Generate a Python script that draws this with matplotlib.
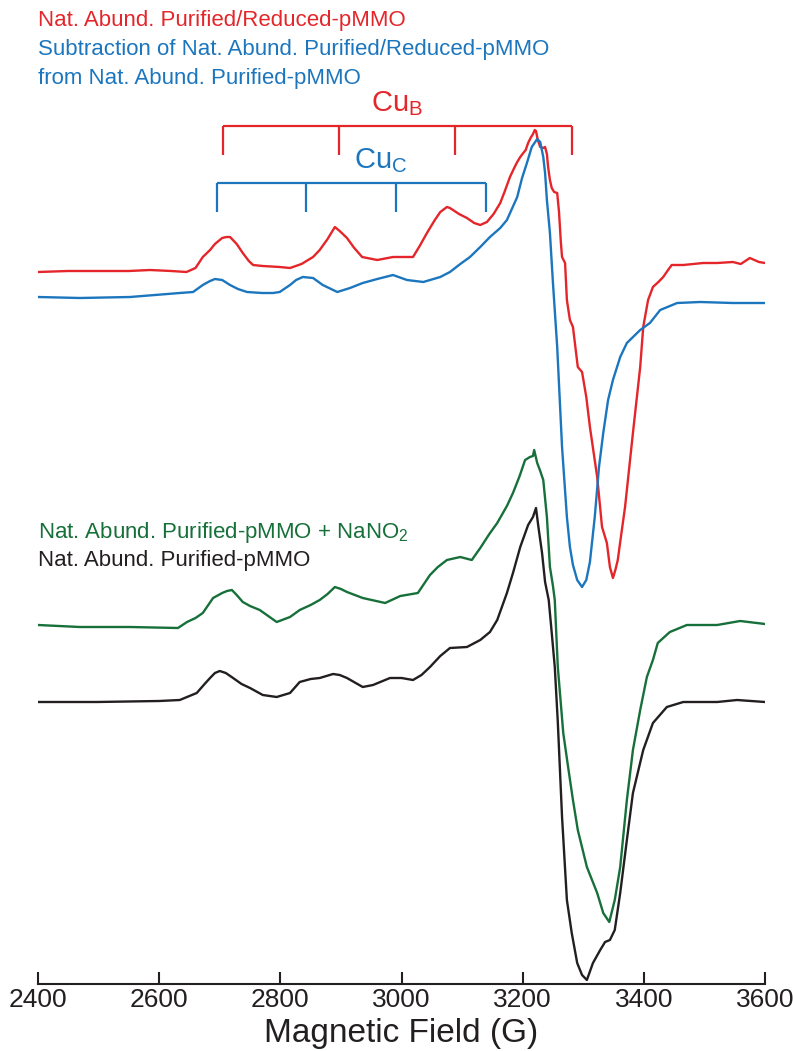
#!/usr/bin/env python
# -*- coding: utf-8 -*-

"""
EPR spectra of natural abundance pMMO samples (stacked traces)
"""

import matplotlib
matplotlib.use("Agg")
import matplotlib.pyplot as plt

# Nat. Abund. Purified/Reduced-pMMO
red_field = [2400, 2450, 2502, 2550, 2585, 2620, 2645, 2660, 2672, 2684, 2692, 2704,
             2711, 2717, 2728, 2738, 2748, 2755, 2771, 2799, 2816, 2835, 2854, 2865,
             2878, 2890, 2898, 2910, 2922, 2935, 2960, 2986, 3019, 3030, 3042, 3055,
             3064, 3075, 3080, 3095, 3108, 3120, 3130, 3141, 3152, 3163, 3170, 3179,
             3186, 3191, 3196, 3201, 3205, 3209, 3213, 3217, 3220, 3222, 3225, 3229,
             3234, 3237, 3240, 3242, 3245, 3248, 3252, 3257, 3260, 3263, 3265, 3270,
             3273, 3278, 3283, 3287, 3291, 3298, 3305, 3311, 3317, 3323, 3331, 3339,
             3344, 3349, 3353, 3357, 3361, 3369, 3382, 3394, 3399, 3407, 3415, 3424,
             3432, 3440, 3446, 3465, 3498, 3521, 3547, 3560, 3575, 3590, 3600]
red_signal = [0, 1, 1, 1, 2, 1, 0, 4, 15, 22, 28, 34,
              35, 35, 28, 19, 11, 7, 6, 5, 4, 8, 15, 22,
              33, 45, 41, 34, 24, 15, 12, 15, 15, 26, 39, 52,
              60, 65, 64, 58, 54, 49, 47, 50, 58, 69, 80, 95,
              104, 110, 115, 119, 122, 129, 134, 138, 142, 141, 132, 125,
              124, 125, 118, 105, 92, 84, 80, 79, 60, 30, 15, 9,
              -28, -48, -55, -75, -95, -100, -125, -155, -180, -205, -255, -271,
              -295, -306, -298, -288, -270, -235, -161, -95, -55, -28, -15, -10,
              -5, 2, 7, 7, 9, 9, 10, 8, 14, 10, 9]

# Subtraction of Nat. Abund. Purified/Reduced-pMMO from Nat. Abund. Purified-pMMO
blue_field = [2400, 2469, 2552, 2634, 2656, 2672, 2684, 2692, 2704, 2717, 2730, 2745,
              2770, 2788, 2799, 2816, 2826, 2837, 2854, 2870, 2894, 2915, 2936, 2960,
              2986, 3009, 3036, 3064, 3080, 3097, 3113, 3130, 3146, 3163, 3174, 3191,
              3199, 3207, 3215, 3224, 3229, 3234, 3237, 3240, 3245, 3250, 3257, 3265,
              3273, 3278, 3283, 3290, 3298, 3305, 3311, 3319, 3326, 3333, 3341, 3349,
              3361, 3372, 3394, 3410, 3427, 3455, 3493, 3547, 3600]
blue_signal = [0, -1, 0, 4, 5, 12, 16, 18, 17, 12, 8, 5,
               4, 4, 5, 12, 17, 20, 19, 12, 5, 9, 14, 18,
               22, 17, 15, 20, 25, 33, 40, 50, 60, 69, 77, 100,
               119, 134, 150, 158, 155, 140, 124, 97, 64, 14, -50, -150,
               -220, -250, -268, -283, -290, -283, -265, -220, -170, -136, -103, -83,
               -60, -46, -33, -26, -13, -6, -5, -6, -6]

# Nat. Abund. Purified-pMMO + NaNO2
green_field = [2400, 2469, 2552, 2631, 2646, 2660, 2672, 2689, 2704, 2712, 2720, 2728,
               2738, 2750, 2766, 2780, 2794, 2816, 2832, 2850, 2865, 2878, 2890, 2900,
               2910, 2936, 2973, 2998, 3027, 3037, 3047, 3060, 3075, 3097, 3116, 3130,
               3145, 3158, 3174, 3184, 3195, 3204, 3212, 3217, 3219, 3224, 3229, 3234,
               3240, 3245, 3250, 3253, 3258, 3267, 3275, 3283, 3291, 3306, 3323, 3333,
               3343, 3352, 3361, 3372, 3382, 3394, 3405, 3415, 3423, 3432, 3443, 3471,
               3521, 3559, 3600]
green_signal = [1, -1, -1, -2, 4, 8, 13, 28, 33, 35, 36, 31,
                24, 20, 16, 10, 4, 9, 16, 21, 26, 32, 39, 37,
                34, 28, 23, 30, 33, 42, 51, 59, 66, 69, 66, 78,
                92, 103, 120, 133, 150, 166, 169, 170, 176, 163, 155, 146,
                109, 59, 40, 26, -41, -107, -141, -174, -204, -241, -267, -287,
                -296, -274, -241, -174, -124, -84, -51, -34, -17, -12, -6, 1,
                1, 5, 2]

# Nat. Abund. Purified-pMMO
black_field = [2400, 2497, 2600, 2634, 2662, 2675, 2684, 2692, 2700, 2710, 2722, 2736,
               2750, 2771, 2794, 2816, 2832, 2850, 2865, 2887, 2898, 2910, 2936, 2953,
               2981, 3000, 3019, 3033, 3047, 3064, 3080, 3108, 3130, 3146, 3158, 3174,
               3184, 3196, 3209, 3217, 3222, 3226, 3232, 3237, 3243, 3248, 3253, 3258,
               3265, 3273, 3281, 3290, 3298, 3306, 3316, 3328, 3336, 3344, 3352, 3361,
               3372, 3382, 3399, 3415, 3438, 3465, 3521, 3554, 3600]
black_signal = [0, 0, 1, 2, 9, 18, 24, 29, 31, 29, 24, 18,
                14, 7, 5, 9, 20, 23, 24, 28, 27, 24, 15, 17,
                24, 24, 22, 27, 35, 46, 54, 55, 62, 70, 82, 109,
                129, 155, 177, 185, 194, 175, 149, 120, 102, 69, 35, -20,
                -115, -198, -231, -261, -273, -278, -261, -248, -240, -238, -228, -191,
                -138, -91, -48, -21, -5, 0, 0, 2, 0]

# hyperfine line positions (G)
cub_lines = [2705, 2897, 3089, 3281]
cuc_lines = [2695, 2843, 2991, 3139]

field_ticks = [2400, 2600, 2800, 3000, 3200, 3400, 3600]

RED = '#E4262B'
BLUE = '#1C76BE'
GREEN = '#17703A'
BLACK = '#231F20'

FIG_W, FIG_H = 793, 1051


def fig_xy(x, row):
    """pixel position (from top left) to figure fraction"""
    return x / FIG_W, 1 - row / FIG_H


def draw_bracket(axis, lines, top, depth, color):
    axis.plot([lines[0], lines[-1]], [top, top], color=color, lw=1.6,
              solid_capstyle='butt')
    for pos in lines:
        axis.plot([pos, pos], [top, top - depth], color=color, lw=1.6,
                  solid_capstyle='butt')


def main():
    plt.rcParams['font.family'] = ['Liberation Sans', 'DejaVu Sans']
    plt.rcParams['mathtext.fontset'] = 'custom'
    plt.rcParams['mathtext.rm'] = 'Liberation Sans'

    fig = plt.figure(figsize=(FIG_W / 100, FIG_H / 100), dpi=100)
    axis = fig.add_axes([38 / FIG_W, 1 - 984 / FIG_H, 727 / FIG_W, 984 / FIG_H])

    # vertical offsets of the stacked spectra
    offsets = {'red': 712, 'blue': 687, 'green': 358, 'black': 282}

    axis.plot(black_field, [v + offsets['black'] for v in black_signal],
              color=BLACK, lw=1.7)
    axis.plot(green_field, [v + offsets['green'] for v in green_signal],
              color=GREEN, lw=1.7)
    axis.plot(red_field, [v + offsets['red'] for v in red_signal],
              color=RED, lw=1.7)
    axis.plot(blue_field, [v + offsets['blue'] for v in blue_signal],
              color=BLUE, lw=1.7)

    draw_bracket(axis, cub_lines, 858, 29, RED)
    draw_bracket(axis, cuc_lines, 801, 29, BLUE)
    axis.text((cub_lines[0] + cub_lines[-1]) / 2, 866, r'Cu$_{\mathregular{B}}$',
              color=RED, fontsize=21, ha='center', va='bottom')
    axis.text(2965, 809, r'Cu$_{\mathregular{C}}$',
              color=BLUE, fontsize=21, ha='center', va='bottom')

    axis.set_xlim(2400, 3600)
    axis.set_ylim(0, 984)
    axis.set_xticks(field_ticks)
    axis.set_yticks([])
    for side in ('left', 'right', 'top'):
        axis.spines[side].set_visible(False)
    axis.spines['bottom'].set_linewidth(1.5)
    axis.spines['bottom'].set_color(BLACK)
    axis.tick_params(axis='x', direction='in', length=9, width=1.5,
                     color=BLACK, labelcolor=BLACK, pad=3, labelsize=19)
    axis.set_xlabel('Magnetic Field (G)', fontsize=24, color=BLACK, labelpad=4)
    axis.patch.set_visible(False)

    # legend texts
    fig.text(*fig_xy(38, 26), 'Nat. Abund. Purified/Reduced-pMMO',
             color=RED, fontsize=16, va='baseline')
    fig.text(*fig_xy(38, 55), 'Subtraction of Nat. Abund. Purified/Reduced-pMMO',
             color=BLUE, fontsize=16, va='baseline')
    fig.text(*fig_xy(38, 84), 'from Nat. Abund. Purified-pMMO',
             color=BLUE, fontsize=16, va='baseline')
    fig.text(*fig_xy(38, 538), r'Nat. Abund. Purified-pMMO + NaNO$_{\mathregular{2}}$',
             color=GREEN, fontsize=16, va='baseline')
    fig.text(*fig_xy(38, 566), 'Nat. Abund. Purified-pMMO',
             color=BLACK, fontsize=16, va='baseline')

    fig.savefig('out.png', dpi=100)
    return 0


if __name__ == '__main__':
    main()
